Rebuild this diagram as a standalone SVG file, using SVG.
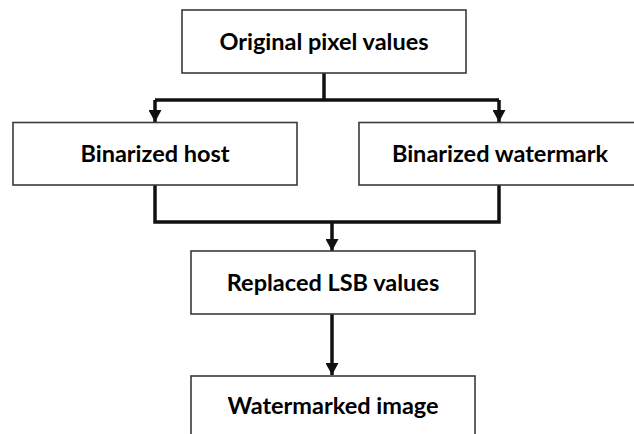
<svg xmlns="http://www.w3.org/2000/svg" width="634" height="434" viewBox="0 0 634 434">
<style>
.box{fill:#fff;stroke:#3a3a3a;stroke-width:1.6}
.lbl{font-family:Lato,"Liberation Sans",sans-serif;font-weight:700;font-size:23.5px;fill:#000;text-anchor:middle}
.con{fill:none;stroke:#111;stroke-width:3.5;stroke-linejoin:miter}
</style>
<defs>
<marker id="ah" viewBox="0 0 12 13" refX="12" refY="6.5" markerWidth="12" markerHeight="13" markerUnits="userSpaceOnUse" orient="auto">
<path d="M0,0 L12,6.5 L0,13 Z" fill="#111"/>
</marker>
</defs>
<rect width="634" height="434" fill="#fff"/>
<g id="connectors">
<path class="con" d="M324,73 V100"/>
<path class="con" d="M155,100 H499"/>
<path class="con" d="M155,100 V122" marker-end="url(#ah)"/>
<path class="con" d="M499,100 V122" marker-end="url(#ah)"/>
<path class="con" d="M155,185 V222 H499 V185"/>
<path class="con" d="M332,222 V251" marker-end="url(#ah)"/>
<path class="con" d="M332,314 V375" marker-end="url(#ah)"/>
</g>
<g id="n1"><rect class="box" x="182" y="10" width="284" height="63"/><text class="lbl" x="324" y="49.5">Original pixel values</text></g>
<g id="n2"><rect class="box" x="13" y="122.5" width="284" height="62.5"/><text class="lbl" x="155" y="162">Binarized host</text></g>
<g id="n3"><rect class="box" x="359" y="122.5" width="284" height="62.5"/><text class="lbl" x="500" y="162">Binarized watermark</text></g>
<g id="n4"><rect class="box" x="191" y="251" width="284" height="63"/><text class="lbl" x="333" y="291">Replaced LSB values</text></g>
<g id="n5"><rect class="box" x="191" y="376" width="284" height="70"/><text class="lbl" x="333" y="414">Watermarked image</text></g>
</svg>
